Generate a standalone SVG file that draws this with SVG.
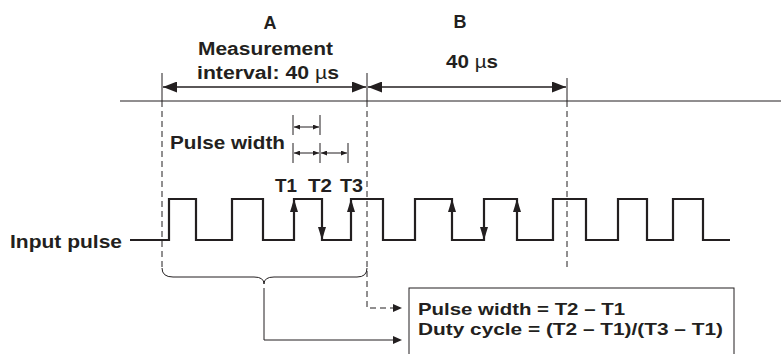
<svg xmlns="http://www.w3.org/2000/svg" width="781" height="354" viewBox="0 0 781 354">
<style>
text{font-family:"Liberation Sans",Arial,sans-serif;font-weight:bold;font-size:18px;fill:#231f20}
.mu{font-weight:normal}
.box{font-size:17px}
.thin{stroke:#231f20;stroke-width:1;fill:none}
.dash{stroke:#231f20;stroke-width:1;fill:none;stroke-dasharray:6 4}
.dim{stroke:#231f20;stroke-width:1.5;fill:none}
.wave{stroke:#231f20;stroke-width:2.2;fill:none}
.head{fill:#231f20}
</style>
<defs>
<marker id="big" markerUnits="userSpaceOnUse" markerWidth="14" markerHeight="11" refX="14" refY="5.5" orient="auto-start-reverse"><path d="M0,0 L14,5.5 L0,11 z" fill="#231f20"/></marker>
<marker id="small" markerUnits="userSpaceOnUse" markerWidth="6" markerHeight="5" refX="6" refY="2.5" orient="auto-start-reverse"><path d="M0,0 L6,2.5 L0,5 z" fill="#231f20"/></marker>
</defs>
<g id="timeline">
<line class="thin" x1="120" y1="101" x2="781" y2="101"/>
<line class="thin" x1="162" y1="73" x2="162" y2="101"/>
<line class="thin" x1="367" y1="73" x2="367" y2="101"/>
<line class="thin" x1="567" y1="78" x2="567" y2="101"/>
<line class="dash" x1="162" y1="101" x2="162" y2="268"/>
<line class="dash" x1="567" y1="101" x2="567" y2="267"/>
</g>
<g id="interval-A">
<line class="dim" x1="163" y1="87" x2="366" y2="87" marker-start="url(#big)" marker-end="url(#big)"/>
<text x="270" y="29" text-anchor="middle" font-size="19">A</text>
<text x="198" y="55" textLength="135" lengthAdjust="spacingAndGlyphs">Measurement</text>
<text x="197" y="79" textLength="142" lengthAdjust="spacingAndGlyphs">interval: 40 <tspan class="mu">µ</tspan>s</text>
</g>
<g id="interval-B">
<line class="dim" x1="368" y1="87" x2="566" y2="87" marker-start="url(#big)" marker-end="url(#big)"/>
<text x="460" y="28" text-anchor="middle" font-size="19">B</text>
<text x="446" y="68" textLength="52" lengthAdjust="spacingAndGlyphs">40 <tspan class="mu">µ</tspan>s</text>
</g>
<g id="pulse-width">
<line class="thin" x1="293" y1="115" x2="293" y2="135"/>
<line class="thin" x1="320" y1="115" x2="320" y2="135"/>
<line class="thin" x1="293" y1="143" x2="293" y2="163"/>
<line class="thin" x1="320" y1="143" x2="320" y2="163"/>
<line class="thin" x1="348" y1="143" x2="348" y2="163"/>
<line class="thin" x1="294" y1="127" x2="319" y2="127" marker-start="url(#small)" marker-end="url(#small)"/>
<line class="thin" x1="294" y1="153" x2="319" y2="153" marker-start="url(#small)" marker-end="url(#small)"/>
<line class="thin" x1="321" y1="153" x2="347" y2="153" marker-start="url(#small)" marker-end="url(#small)"/>
<text x="170" y="149" textLength="115" lengthAdjust="spacingAndGlyphs">Pulse width</text>
<text x="275" y="192" textLength="22" lengthAdjust="spacingAndGlyphs">T1</text>
<text x="308" y="192" textLength="24" lengthAdjust="spacingAndGlyphs">T2</text>
<text x="340" y="192" textLength="23" lengthAdjust="spacingAndGlyphs">T3</text>
</g>
<g id="input-pulse">
<text x="10" y="248" textLength="112" lengthAdjust="spacingAndGlyphs">Input pulse</text>
<path class="wave" d="M130,240 H169 V199 H196 V240 H232 V199 H263 V240 H294 V199 H322 V240 H351 V199 H383 V240 H415 V199 H452 V240 H484 V199 H517 V240 H553 V199 H586 V240 H618 V199 H647 V240 H673 V199 H703 V240 H730"/>
<polygon class="head" points="294,199 290,212 298,212"/>
<polygon class="head" points="322,240 318,227 326,227"/>
<polygon class="head" points="351,199 347,212 355,212"/>
<polygon class="head" points="452,199 448,212 456,212"/>
<polygon class="head" points="484,240 480,227 488,227"/>
<polygon class="head" points="517,199 513,212 521,212"/>
</g>
<g id="brace">
<path class="thin" d="M162,268 Q162,277 173,277 H254 Q264,277 264,284 Q264,277 274,277 H357 Q367,277 367,268"/>
</g>
<g id="result-box">
<rect class="thin" x="409" y="288" width="325" height="80"/>
<text class="box" x="418" y="315" textLength="207" lengthAdjust="spacingAndGlyphs">Pulse width = T2 – T1</text>
<text class="box" x="418" y="335" textLength="305" lengthAdjust="spacingAndGlyphs">Duty cycle = (T2 – T1)/(T3 – T1)</text>
</g>
<g id="connectors">
<path class="dash" d="M367,101 V308 H393"/>
<path class="head" d="M393,304 L402,308 L393,312 z"/>
<path class="thin" d="M264,288 V340 H393"/>
<path class="head" d="M393,336 L402,340 L393,344 z"/>
</g>
</svg>
